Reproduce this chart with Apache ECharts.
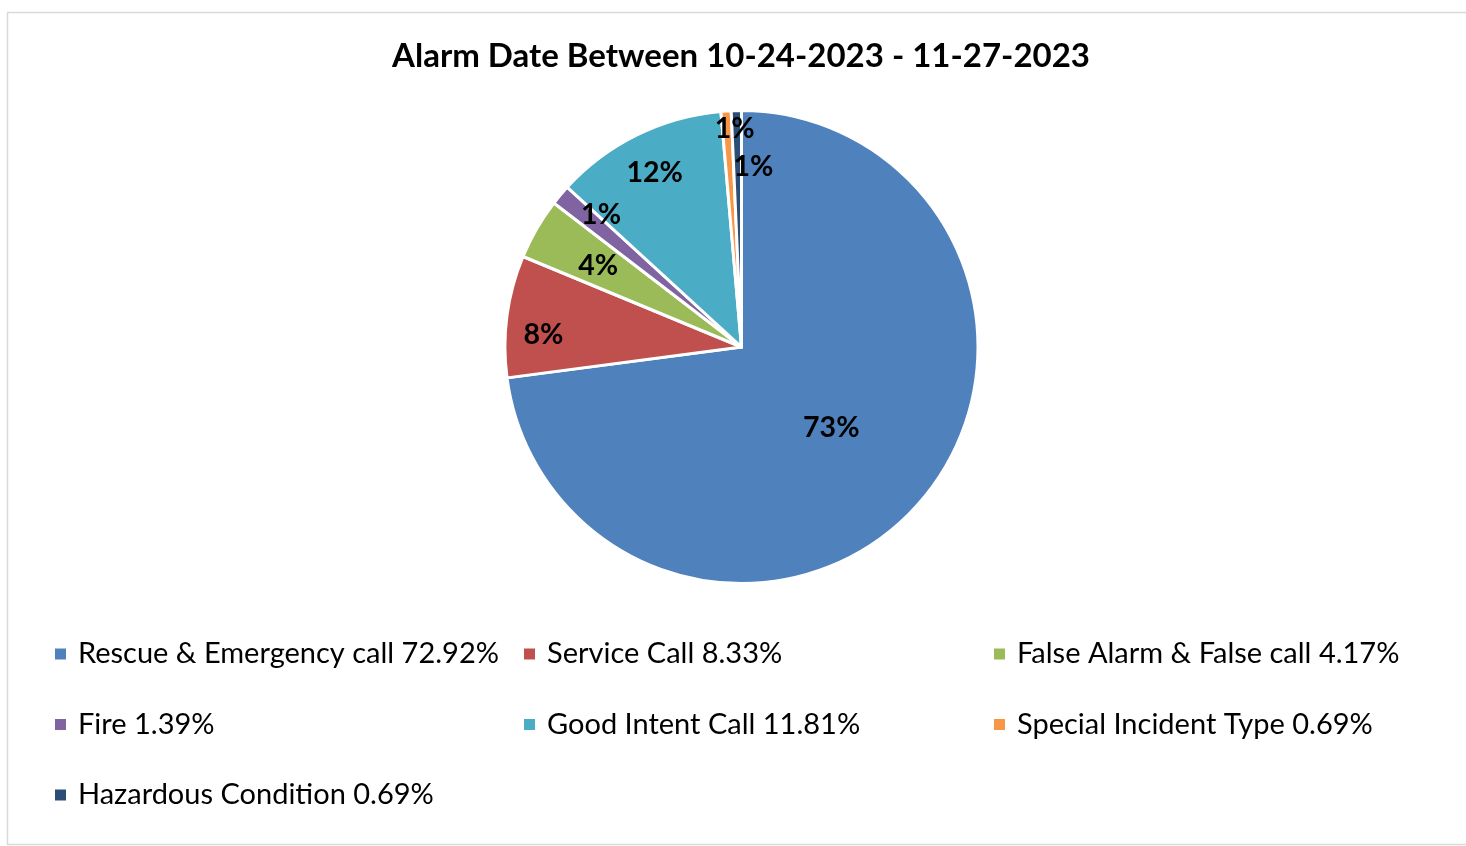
<!DOCTYPE html>
<html>
<head>
<meta charset="utf-8">
<script src="https://cdn.jsdelivr.net/npm/echarts@6/dist/echarts.min.js"></script>
<style>
  html, body { margin: 0; padding: 0; background: #fff; }
  #main { width: 1466px; height: 846px; }
</style>
</head>
<body>
<div id="main"></div>
<script>
// data (counts out of 144)
const categories = [
  'Rescue & Emergency call',
  'Service Call',
  'False Alarm & False call',
  'Fire',
  'Good Intent Call',
  'Special Incident Type',
  'Hazardous Condition'
];
const counts = [105, 12, 6, 2, 17, 1, 1];
const colors = ['#4F81BD', '#C0504D', '#9BBB59', '#8064A2', '#4BACC6', '#F79646', '#2C4D75'];

// label placement: [fraction of radius, angle offset in degrees]
const labelPlace = [[0.505, 0], [0.84, -3.5], [0.70, 0], [0.82, 3.6], [0.83, 0], [0.93, 2], [0.77, 5]];

const CX = 741.5, CY = 347, R = 236.5;
const FONT = 'Lato, "Open Sans", sans-serif';

const total = counts.reduce((a, b) => a + b, 0);
const pct = counts.map(v => v / total * 100);

// mid angle of each slice, degrees clockwise from 12 o'clock
const midAngles = [];
let acc = 0;
counts.forEach(v => {
  const a = v / total * 360;
  midAngles.push(acc + a / 2);
  acc += a;
});

const chart = echarts.init(document.getElementById('main'));

function legendFor(names, left) {
  return {
    data: names,
    orient: 'vertical',
    left: left,
    top: 639.5,
    padding: 0,
    itemGap: 41.5,
    itemWidth: 13,
    itemHeight: 13,
    icon: 'rect',
    selectedMode: false,
    formatter: function (name) {
      const i = categories.indexOf(name);
      return name + ' ' + pct[i].toFixed(2) + '%';
    },
    textStyle: { fontFamily: FONT, fontSize: 29, color: '#000', padding: [0, 0, 0, 6] }
  };
}

const option = {
  animation: false,
  backgroundColor: '#fff',
  color: colors,
  title: {
    text: 'Alarm Date Between 10-24-2023 - 11-27-2023',
    left: 741,
    textAlign: 'center',
    top: 40,
    padding: 0,
    textStyle: { fontFamily: FONT, fontSize: 33, fontWeight: 'bold', color: '#000' }
  },
  graphic: [{
    type: 'rect',
    shape: { x: 7.5, y: 12.5, width: 1480, height: 832 },
    style: { fill: 'none', stroke: '#d9d9d9', lineWidth: 1.5 },
    silent: true,
    z: -1
  }],
  legend: [
    legendFor([categories[0], categories[3], categories[6]], 53),
    legendFor([categories[1], categories[4]], 522),
    legendFor([categories[2], categories[5]], 992)
  ],
  series: [{
    type: 'pie',
    center: [CX, CY],
    radius: [0, R],
    startAngle: 90,
    clockwise: true,
    avoidLabelOverlap: false,
    data: categories.map((c, i) => ({ name: c, value: counts[i] })),
    itemStyle: { borderColor: '#fff', borderWidth: 3 },
    label: {
      position: 'inside',
      fontFamily: FONT,
      fontSize: 28.5,
      fontWeight: 'bold',
      color: '#000',
      formatter: function (p) { return Math.round(pct[p.dataIndex]) + '%'; }
    },
    labelLine: { show: false },
    labelLayout: function (p) {
      const i = p.dataIndex;
      const pl = labelPlace[i];
      const a = (midAngles[i] + pl[1]) * Math.PI / 180;
      return {
        x: CX + Math.sin(a) * R * pl[0],
        y: CY - Math.cos(a) * R * pl[0] + 2,
        align: 'center',
        verticalAlign: 'middle'
      };
    }
  }]
};

chart.setOption(option);
</script>
</body>
</html>
